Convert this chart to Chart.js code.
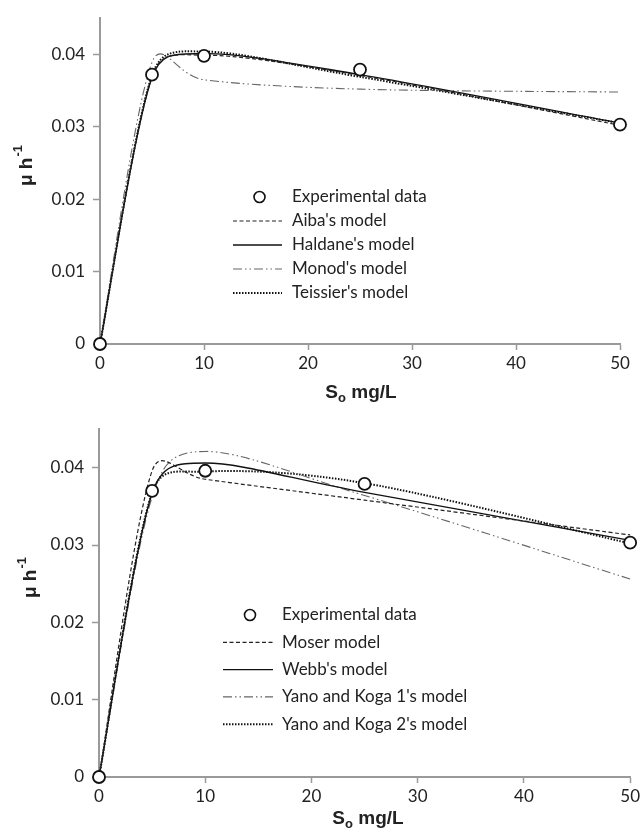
<!DOCTYPE html>
<html>
<head>
<meta charset="utf-8">
<script src="https://cdn.jsdelivr.net/npm/chart.js@4.4.1/dist/chart.umd.min.js"></script>
<style>
  body { margin: 0; background: #fff; width: 643px; height: 829px; overflow: hidden; }
  canvas { display: block; }
</style>
</head>
<body>
<canvas id="topChart" width="643" height="410"></canvas>
<canvas id="bottomChart" width="643" height="419"></canvas>
<script>
// substrate concentrations (mg/L) at which data and model values are given
var sValues = [0, 5, 10, 25, 50];
var xTicks = [0, 10, 20, 30, 40, 50];
var yTicks = [0, 0.01, 0.02, 0.03, 0.04];

// top panel
var topLabels = ['Experimental data', "Aiba's model", "Haldane's model", "Monod's model", "Teissier's model"];
var topExperimental = [0, 0.0372, 0.0398, 0.0379, 0.0303];
var aiba     = [0, 0.0370, 0.0399, 0.0371, 0.0302];
var haldane  = [0, 0.0368, 0.0401, 0.0372, 0.0305];
var monod    = [0, 0.0389, 0.0365, 0.0352, 0.0348];
var teissier = [0, 0.0371, 0.0404, 0.0369, 0.0305];

// bottom panel
var bottomLabels = ['Experimental data', 'Moser model', "Webb's model", "Yano and Koga 1's model", "Yano and Koga 2's model"];
var bottomExperimental = [0, 0.0370, 0.0396, 0.0379, 0.0303];
var moser = [0, 0.0396, 0.0385, 0.0358, 0.0313];
var webb  = [0, 0.0367, 0.0406, 0.0368, 0.0306];
var yanoKoga1 = [0, 0.0362, 0.0421, 0.0364, 0.0256];
var yanoKoga2 = [0, 0.0368, 0.0395, 0.0380, 0.0302];

var styles = {
  dashed:  { borderColor: '#222', borderWidth: 1.2, borderDash: [4, 2.5] },
  solid:   { borderColor: '#111', borderWidth: 1.4, borderDash: [] },
  dashDot: { borderColor: '#666', borderWidth: 1.1, borderDash: [9, 3, 1.5, 3, 1.5, 3] },
  dotted:  { borderColor: '#111', borderWidth: 2, borderDash: [1.5, 1.5] }
};

function pts(ys) {
  return sValues.map(function (x, i) { return { x: x, y: ys[i] }; });
}

function scatterSet(label, ys) {
  return {
    label: label, data: pts(ys), showLine: false, order: 0, clip: false,
    pointRadius: 6, pointHoverRadius: 6, pointBackgroundColor: '#fff',
    pointBorderColor: '#111', pointBorderWidth: 1.8
  };
}

function lineSet(label, ys, st) {
  return {
    label: label, data: pts(ys), showLine: true, order: 1, clip: false,
    pointRadius: 0, tension: 0.4, fill: false,
    borderColor: st.borderColor, borderWidth: st.borderWidth, borderDash: st.borderDash
  };
}

// spreadsheet-style smoothing: control points along (next - prev),
// at most 1/6 of it and at most half of the adjoining segment
var smoothPlugin = {
  id: 'sheetSmooth',
  beforeDatasetDraw: function (chart, args) {
    var meta = args.meta;
    if (!meta.dataset || !chart.data.datasets[args.index].showLine) return;
    meta.dataset.updateControlPoints(chart.chartArea, 'x');
    var p = meta.data, n = p.length;
    for (var i = 0; i < n; i++) {
      var prev = p[Math.max(i - 1, 0)], cur = p[i], next = p[Math.min(i + 1, n - 1)];
      var dx = next.x - prev.x, dy = next.y - prev.y;
      var d02 = Math.hypot(dx, dy) || 1;
      var fIn = Math.min(1 / 6, Math.hypot(cur.x - prev.x, cur.y - prev.y) / (2 * d02));
      var fOut = Math.min(1 / 6, Math.hypot(next.x - cur.x, next.y - cur.y) / (2 * d02));
      cur.cp1x = cur.x - dx * fIn;
      cur.cp1y = cur.y - dy * fIn;
      cur.cp2x = cur.x + dx * fOut;
      cur.cp2y = cur.y + dy * fOut;
    }
  }
};

var legendPlugin = {
  id: 'boxLegend',
  afterDatasetsDraw: function (chart, args, opts) {
    var ctx = chart.ctx;
    ctx.save();
    ctx.font = '17px Lato, sans-serif';
    ctx.textBaseline = 'middle';
    chart.data.datasets.forEach(function (ds, i) {
      var y = opts.top + i * opts.rowGap;
      if (ds.showLine === false) {
        ctx.beginPath();
        ctx.arc(opts.x + opts.lineWidth / 2 + 2, y, 5.5, 0, 2 * Math.PI);
        ctx.fillStyle = '#fff';
        ctx.fill();
        ctx.lineWidth = 1.6;
        ctx.strokeStyle = '#111';
        ctx.stroke();
      } else {
        ctx.setLineDash(ds.borderDash || []);
        ctx.lineWidth = ds.borderWidth;
        ctx.strokeStyle = ds.borderColor;
        ctx.beginPath();
        ctx.moveTo(opts.x, y);
        ctx.lineTo(opts.x + opts.lineWidth, y);
        ctx.stroke();
        ctx.setLineDash([]);
      }
      ctx.fillStyle = '#222';
      ctx.fillText(ds.label, opts.textX, y);
    });
    ctx.restore();
  }
};

var axisTitlePlugin = {
  id: 'axisTitles',
  afterDraw: function (chart, args, opts) {
    var ctx = chart.ctx;
    var big = 'bold 19px "Liberation Sans", Arial, sans-serif';
    var small = 'bold 13px "Liberation Sans", Arial, sans-serif';
    ctx.save();
    ctx.fillStyle = '#222';
    ctx.textBaseline = 'alphabetic';
    // x title: S with subscript o
    ctx.font = big;
    var w1 = ctx.measureText('S').width, w3 = ctx.measureText(' mg/L').width;
    ctx.font = small;
    var w2 = ctx.measureText('o').width;
    var x0 = opts.xTitleX - (w1 + w2 + w3) / 2;
    ctx.font = big;
    ctx.fillText('S', x0, opts.xTitleY);
    ctx.font = small;
    ctx.fillText('o', x0 + w1, opts.xTitleY + 4);
    ctx.font = big;
    ctx.fillText(' mg/L', x0 + w1 + w2, opts.xTitleY);
    // y title: mu h^-1, rotated
    ctx.translate(opts.yTitleX, opts.yTitleY);
    ctx.rotate(-Math.PI / 2);
    ctx.font = big;
    var a = ctx.measureText('μ h').width;
    ctx.font = small;
    var b = ctx.measureText('-1').width;
    var start = -(a + b) / 2;
    ctx.font = big;
    ctx.fillText('μ h', start, 7);
    ctx.font = small;
    ctx.fillText('-1', start + a + 1, -3);
    ctx.restore();
  }
};

function tickFmt(v) {
  return v === 0 ? '0' : String(+v.toFixed(2));
}

function makeScales(yWidth, xHeight) {
  var axisColor = '#9a9a9a';
  var tickFont = { family: 'Lato, sans-serif', size: 17 };
  return {
    x: {
      type: 'linear', min: 0, max: 50,
      afterBuildTicks: function (s) { s.ticks = xTicks.map(function (v) { return { value: v }; }); },
      afterFit: function (s) { s.height = xHeight; },
      border: { color: axisColor, width: 2 },
      grid: { drawOnChartArea: false, tickLength: 6, color: axisColor, tickWidth: 1.5 },
      ticks: { color: '#222', font: tickFont, padding: 3, maxRotation: 0, callback: tickFmt }
    },
    y: {
      type: 'linear', min: 0, max: 0.045,
      afterBuildTicks: function (s) { s.ticks = yTicks.map(function (v) { return { value: v }; }); },
      afterFit: function (s) { s.width = yWidth; },
      border: { color: axisColor, width: 2 },
      grid: { drawOnChartArea: false, tickLength: 7, color: axisColor, tickWidth: 1.5 },
      ticks: { color: '#222', font: tickFont, padding: 8, callback: tickFmt }
    }
  };
}

new Chart(document.getElementById('topChart'), {
  type: 'scatter',
  data: {
    datasets: [
      scatterSet(topLabels[0], topExperimental),
      lineSet(topLabels[1], aiba, styles.dashed),
      lineSet(topLabels[2], haldane, styles.solid),
      lineSet(topLabels[3], monod, styles.dashDot),
      lineSet(topLabels[4], teissier, styles.dotted)
    ]
  },
  options: {
    responsive: false, animation: false, events: [],
    layout: { padding: { left: 0, right: 23, top: 15, bottom: 0 } },
    scales: makeScales(100, 66),
    plugins: {
      legend: { display: false }, tooltip: { enabled: false },
      boxLegend: { x: 233, lineWidth: 49, textX: 292, top: 197, rowGap: 24 },
      axisTitles: { xTitleX: 361, xTitleY: 398, yTitleX: 25, yTitleY: 166 }
    }
  },
  plugins: [smoothPlugin, legendPlugin, axisTitlePlugin]
});

new Chart(document.getElementById('bottomChart'), {
  type: 'scatter',
  data: {
    datasets: [
      scatterSet(bottomLabels[0], bottomExperimental),
      lineSet(bottomLabels[1], moser, styles.dashed),
      lineSet(bottomLabels[2], webb, styles.solid),
      lineSet(bottomLabels[3], yanoKoga1, styles.dashDot),
      lineSet(bottomLabels[4], yanoKoga2, styles.dotted)
    ]
  },
  options: {
    responsive: false, animation: false, events: [],
    layout: { padding: { left: 0, right: 11, top: 19, bottom: 0 } },
    scales: makeScales(99, 52),
    plugins: {
      legend: { display: false }, tooltip: { enabled: false },
      boxLegend: { x: 223, lineWidth: 50, textX: 282, top: 205, rowGap: 27.3 },
      axisTitles: { xTitleX: 368, xTitleY: 414, yTitleX: 29, yTitleY: 168 }
    }
  },
  plugins: [smoothPlugin, legendPlugin, axisTitlePlugin]
});
</script>
</body>
</html>
